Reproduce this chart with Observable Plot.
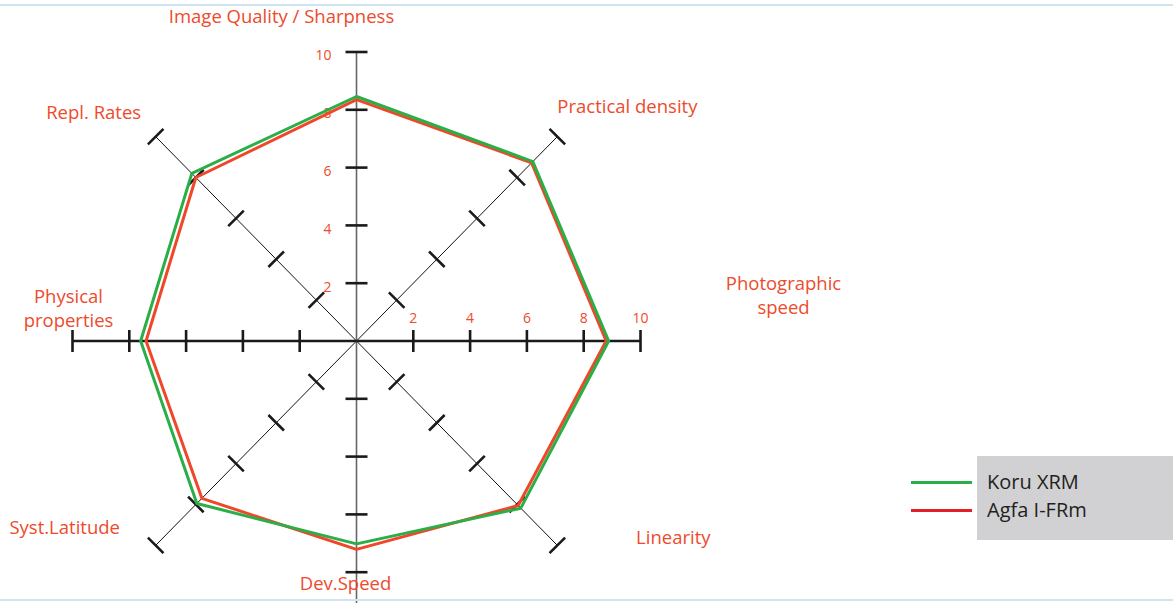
<!DOCTYPE html>
<html>
<head>
<meta charset="utf-8">
<script src="https://cdn.jsdelivr.net/npm/d3@7"></script>
<script src="https://cdn.jsdelivr.net/npm/@observablehq/plot@0.6"></script>
<style>
  html, body { margin: 0; padding: 0; overflow: hidden; background: #fff; }
  #wrap { position: relative; width: 1173px; height: 603px; }
  #wrap svg { position: absolute; left: 0; top: 0; }
  .rule { position: absolute; left: 0; width: 1173px; height: 2px; background: #cfe4f1; }
  #legend { position: absolute; left: 977px; top: 456px; width: 196px; height: 84px; background: #d1d1d3; }
  .lg-item { position: absolute; left: 10px; font: 20px "Open Sans", sans-serif; color: #231f20; line-height: 1; white-space: nowrap; }
  .lg-line { position: absolute; left: -76px; width: 61px; height: 3px; }
</style>
</head>
<body>
<div id="wrap"></div>
<script>
// ---- data ----
const categories = ["Image Quality / Sharpness", "Practical density", "Photographic\nspeed", "Linearity",
                    "Dev.Speed", "Syst.Latitude", "Physical\nproperties", "Repl. Rates"];
const seriesNames = ["Koru XRM", "Agfa I-FRm"];
const koruXRM  = [8.46, 8.78, 8.88, 8.18, 7.02, 7.95, 7.6, 8.2];
const agfaIFRm = [8.35, 8.72, 8.79, 8.05, 7.21, 7.7, 7.41, 8.0];
const tickValues = [2, 4, 6, 8, 10];
const tickLabels = ["2", "4", "6", "8", "10"];

// ---- layout / style ----
const W = 1173, H = 603;
const pxX = 28.4, pxY = 28.9;          // pixels per unit
const cx = 356, cy = 340.5;            // centre in pixels
const labelNudge = [[-75, -37], [0, -30], [143, -47], [116, -9], [-11, -48], [-91, -19], [-4, -34], [-62, -26]];
const labelAnchor = ["middle", "start", "middle", "middle", "middle", "middle", "middle", "middle"];
const green = "#2aae48", red = "#f0472b", labelColor = "#ee4a2c";
const font = "Open Sans";

const n = categories.length;
const angle = i => Math.PI / 2 - i * 2 * Math.PI / n;   // clockwise from top
const axes = categories.map((c, i) => ({i, c, a: angle(i), x: 10 * Math.cos(angle(i)), y: 10 * Math.sin(angle(i))}));

const ticks = [];
axes.forEach(ax => tickValues.forEach(v => {
  const hx = -Math.sin(ax.a) * 11 / pxX, hy = Math.cos(ax.a) * 11 / pxY;
  const px = v * Math.cos(ax.a), py = v * Math.sin(ax.a);
  ticks.push({x1: px - hx, y1: py - hy, x2: px + hx, y2: py + hy});
}));

const rows = [];
[koruXRM, agfaIFRm].forEach((vals, s) => {
  [...vals, vals[0]].forEach((v, k) => {
    const a = angle(k % n);
    rows.push({series: seriesNames[s], x: v * Math.cos(a), y: v * Math.sin(a)});
  });
});

const labels = axes.map(ax => ({
  text: ax.c,
  x: ax.x + labelNudge[ax.i][0] / pxX,
  y: ax.y - labelNudge[ax.i][1] / pxY,
  anchor: labelAnchor[ax.i]
}));

const x0 = -cx / pxX, yTop = cy / pxY;

const chart = Plot.plot({
  width: W, height: H, margin: 0,
  x: {domain: [x0, x0 + W / pxX], axis: null},
  y: {domain: [yTop - H / pxY, yTop], axis: null},
  style: {background: "transparent", overflow: "hidden"},
  marks: [
    // diagonal axes
    Plot.link(axes.filter(d => d.i % 2 === 1), {x1: 0, y1: 0, x2: "x", y2: "y", stroke: "#111", strokeWidth: 1}),
    // vertical axis
    Plot.link(axes.filter(d => d.i === 0 || d.i === 4), {x1: 0, y1: 0, x2: "x", y2: "y", stroke: "#666", strokeWidth: 1.6}),
    // horizontal axis
    Plot.link(axes.filter(d => d.i === 2 || d.i === 6), {x1: 0, y1: 0, x2: "x", y2: "y", stroke: "#1a1a1a", strokeWidth: 2.6}),
    Plot.link(ticks, {x1: "x1", y1: "y1", x2: "x2", y2: "y2", stroke: "#1a1a1a", strokeWidth: 2.6}),
    // tick labels (vertical axis, top)
    Plot.text(tickValues, {x: 0, y: d => d, text: (d, i) => tickLabels[i], dx: -25, dy: 4, textAnchor: "end",
      fill: labelColor, fontSize: 14, fontFamily: font}),
    // tick labels (horizontal axis, right)
    Plot.text(tickValues, {x: d => d, y: 0, text: (d, i) => tickLabels[i], dy: -22,
      fill: labelColor, fontSize: 14, fontFamily: font}),
    // series
    Plot.line(rows.filter(d => d.series === seriesNames[1]), {x: "x", y: "y", stroke: red, strokeWidth: 3, strokeLinejoin: "miter"}),
    Plot.line(rows.filter(d => d.series === seriesNames[0]), {x: "x", y: "y", stroke: green, strokeWidth: 3, strokeLinejoin: "miter"}),
    // category labels
    Plot.text(labels.filter(d => d.anchor === "middle"), {x: "x", y: "y", text: "text", textAnchor: "middle", lineHeight: 1.35,
      fill: labelColor, fontSize: 18.5, fontFamily: font}),
    Plot.text(labels.filter(d => d.anchor === "start"), {x: "x", y: "y", text: "text", textAnchor: "start",
      fill: labelColor, fontSize: 18.5, fontFamily: font})
  ]
});

const wrap = document.getElementById("wrap");
wrap.appendChild(chart);

const ruleTop = document.createElement("div"); ruleTop.className = "rule"; ruleTop.style.top = "4px"; wrap.appendChild(ruleTop);
const ruleBot = document.createElement("div"); ruleBot.className = "rule"; ruleBot.style.top = "599px"; wrap.appendChild(ruleBot);

const legend = document.createElement("div");
legend.id = "legend";
const legendColors = [green, "#e41f26"];
seriesNames.forEach((s, i) => {
  const item = document.createElement("div");
  item.className = "lg-item";
  item.style.top = (16 + i * 28) + "px";
  item.textContent = s;
  const ln = document.createElement("div");
  ln.className = "lg-line";
  ln.style.background = legendColors[i];
  ln.style.top = "9px";
  item.appendChild(ln);
  legend.appendChild(item);
});
wrap.appendChild(legend);
</script>
</body>
</html>
